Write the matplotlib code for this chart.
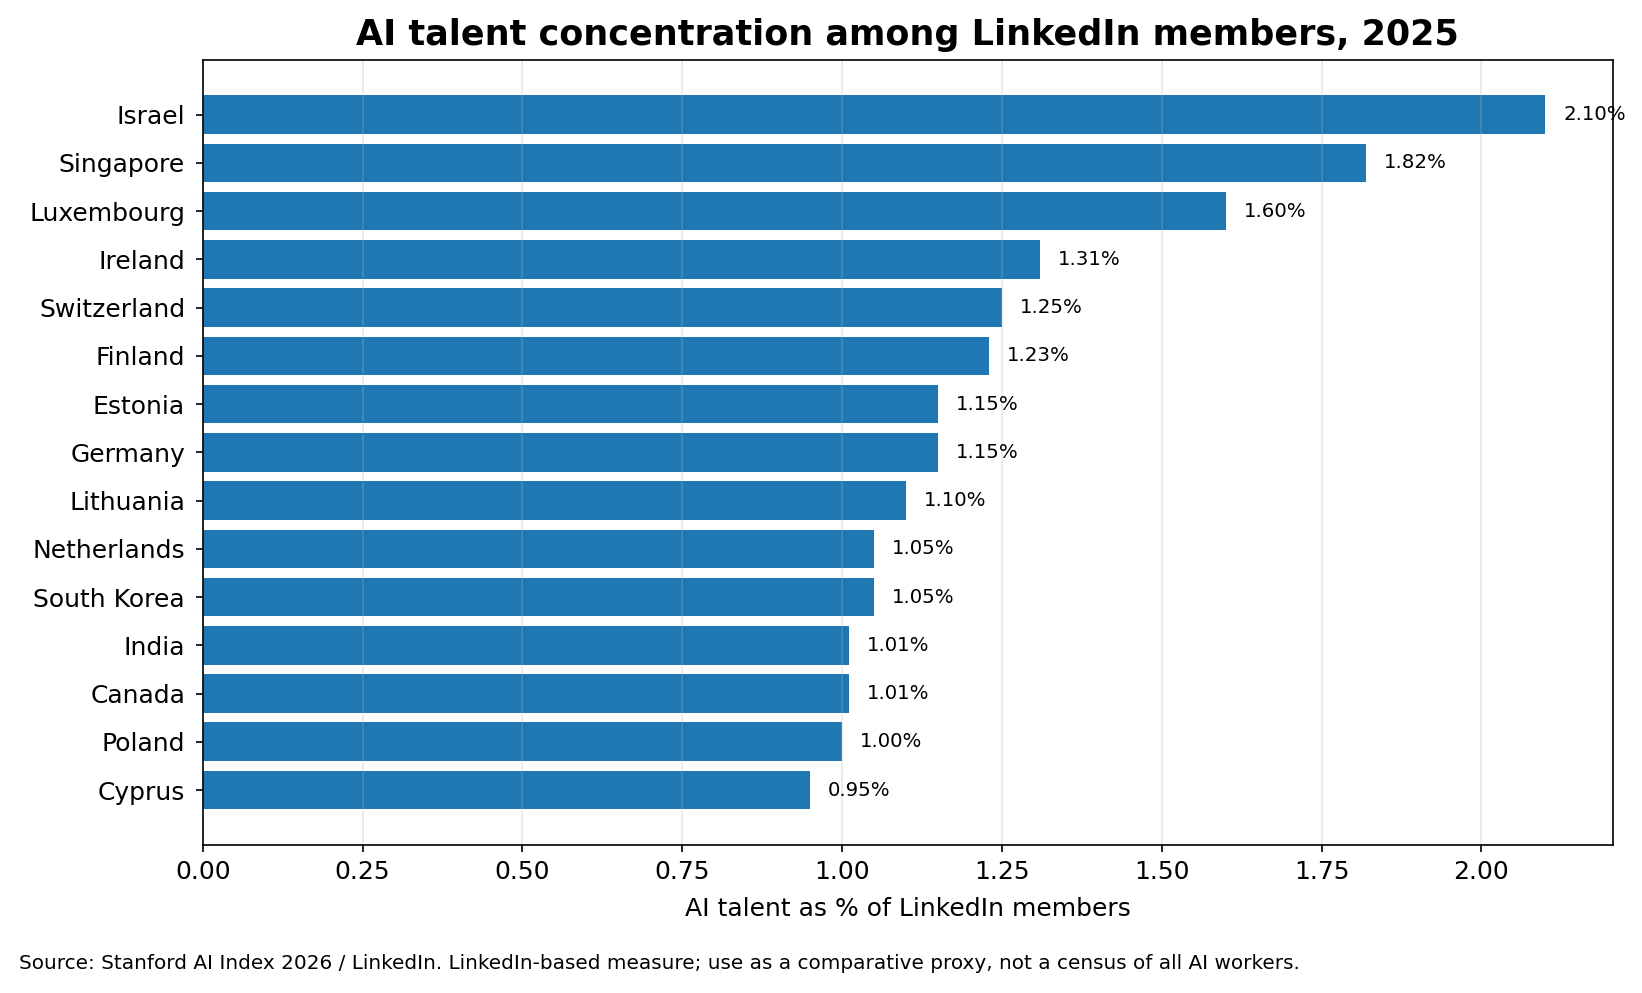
import matplotlib
matplotlib.use("Agg")
import matplotlib.pyplot as plt

countries = ["Israel", "Singapore", "Luxembourg", "Ireland", "Switzerland", "Finland",
             "Estonia", "Germany", "Lithuania", "Netherlands", "South Korea", "India",
             "Canada", "Poland", "Cyprus"]
values = [2.10, 1.82, 1.60, 1.31, 1.25, 1.23, 1.15, 1.15, 1.10, 1.05, 1.05, 1.01, 1.01, 1.00, 0.95]

fig, ax = plt.subplots(figsize=(10.953, 6.62), dpi=150)
bars = ax.barh(countries, values, color="#1f77b4")
ax.invert_yaxis()
ax.set_xlim(0, max(values) * 1.05)
ax.grid(axis="x", alpha=0.3)
for i, v in enumerate(values):
    ax.text(v + 0.028, i, f"{v:.2f}%", va="center", ha="left", fontsize=9.5)
ax.set_xlabel("AI talent as % of LinkedIn members", fontsize=12, labelpad=6.5)
ax.set_title("AI talent concentration among LinkedIn members, 2025", fontsize=16.8,
             fontweight="bold", pad=7)
ax.tick_params(axis="both", labelsize=12)
ax.tick_params(axis="y", pad=5)
fig.subplots_adjust(left=0.1234, right=0.9815, top=0.94, bottom=0.149)
fig.text(0.0115, 0.03, "Source: Stanford AI Index 2026 / LinkedIn. LinkedIn-based measure; use as a comparative proxy, not a census of all AI workers.",
         fontsize=9.6, ha="left", va="center")
fig.savefig("out.png", dpi=150)
